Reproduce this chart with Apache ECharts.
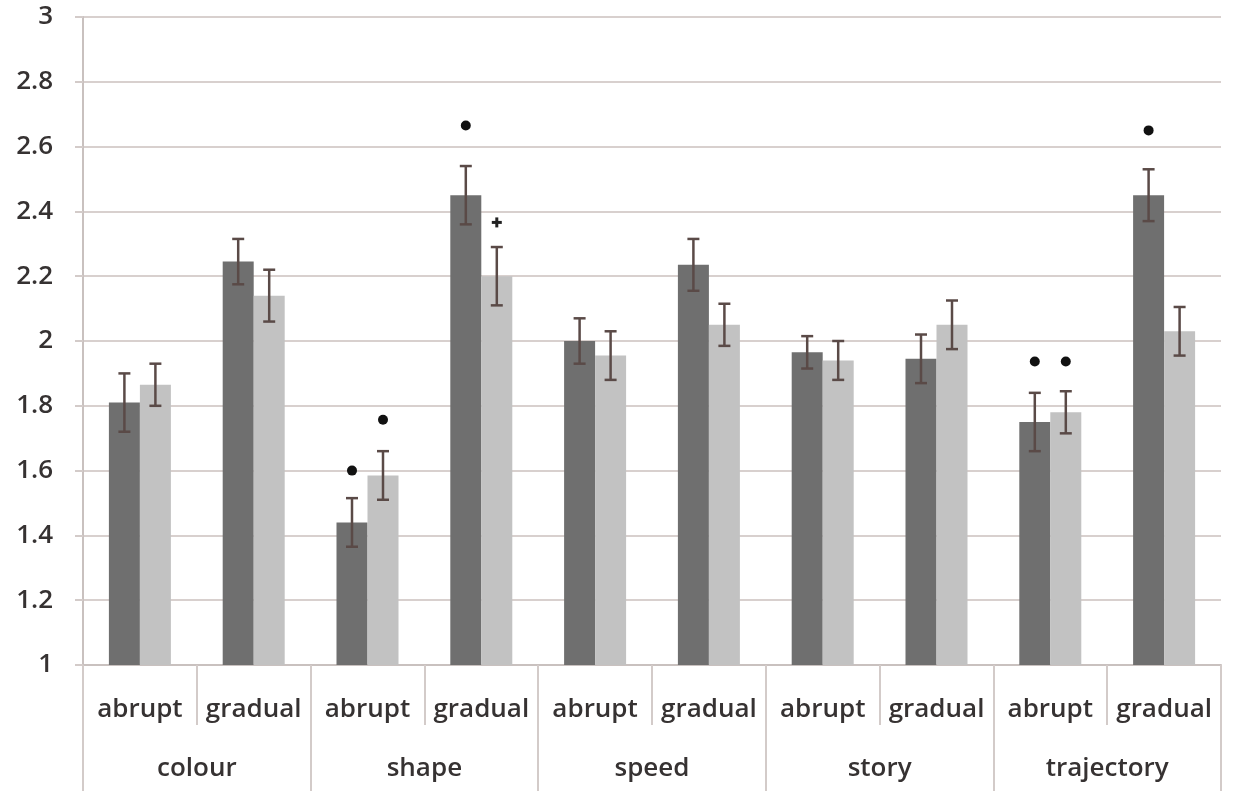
<!DOCTYPE html>
<html>
<head>
<meta charset="utf-8">
<script src="https://cdn.jsdelivr.net/npm/echarts@6/dist/echarts.min.js"></script>
<style>
html,body{margin:0;padding:0;background:#fff;}
#chart{width:1233px;height:794px;}
</style>
</head>
<body>
<div id="chart"></div>
<script>
// ---- data ----
var categories = ['abrupt','gradual','abrupt','gradual','abrupt','gradual','abrupt','gradual','abrupt','gradual'];
var groups = ['colour','shape','speed','story','trajectory'];
var darkMeans  = [1.81, 2.245, 1.44, 2.45, 2.00, 2.235, 1.965, 1.945, 1.75, 2.45];
var darkErr    = [0.09, 0.07, 0.075, 0.09, 0.07, 0.08, 0.05, 0.075, 0.09, 0.08];
var lightMeans = [1.865, 2.14, 1.585, 2.20, 1.955, 2.05, 1.94, 2.05, 1.78, 2.03];
var lightErr   = [0.065, 0.08, 0.075, 0.09, 0.075, 0.065, 0.06, 0.075, 0.065, 0.075];
// significance markers: [categoryIndex, value, symbol]
var darkMarks  = [[2, 1.60, 'dot'], [3, 2.665, 'dot'], [8, 1.937, 'dot'], [9, 2.65, 'dot']];
var lightMarks = [[2, 1.757, 'dot'], [3, 2.366, 'plus'], [8, 1.937, 'dot']];
var yTicks = {min: 1, max: 3, interval: 0.2};

var BAR_W = 31;
var FONT = '"Open Sans", "DejaVu Sans", sans-serif';

function errSeries(means, errs, side) {
  var data = means.map(function (m, i) { return [i, m - errs[i], m + errs[i]]; });
  return {
    type: 'custom', xAxisIndex: 0, yAxisIndex: 0, z: 5,
    data: data,
    renderItem: function (params, api) {
      var x = api.value(0);
      var lo = api.coord([x, api.value(1)]);
      var hi = api.coord([x, api.value(2)]);
      var cx = lo[0] + side * BAR_W / 2;
      var cap = 6;
      var style = {stroke: '#5a4a47', lineWidth: 2.5};
      return {
        type: 'group',
        children: [
          {type: 'line', shape: {x1: cx, y1: lo[1], x2: cx, y2: hi[1]}, style: style},
          {type: 'line', shape: {x1: cx - cap, y1: lo[1], x2: cx + cap, y2: lo[1]}, style: style},
          {type: 'line', shape: {x1: cx - cap, y1: hi[1], x2: cx + cap, y2: hi[1]}, style: style}
        ]
      };
    }
  };
}

function markSeries(marks, side) {
  return {
    type: 'custom', xAxisIndex: 0, yAxisIndex: 0, z: 6,
    data: marks.map(function (m) { return [m[0], m[1], m[2] === 'dot' ? 0 : 1]; }),
    renderItem: function (params, api) {
      var p = api.coord([api.value(0), api.value(1)]);
      var cx = p[0] + side * BAR_W / 2;
      if (api.value(2) === 0) {
        return {type: 'circle', shape: {cx: cx, cy: p[1], r: 5}, style: {fill: '#111'}};
      }
      var s = 5;
      var st = {stroke: '#222', lineWidth: 3};
      return {type: 'group', children: [
        {type: 'line', shape: {x1: cx - s, y1: p[1], x2: cx + s, y2: p[1]}, style: st},
        {type: 'line', shape: {x1: cx, y1: p[1] - s, x2: cx, y2: p[1] + s}, style: st}
      ]};
    }
  };
}

var labelStyle = {fontSize: 26, fontWeight: 600, color: '#363232', fontFamily: FONT};

var chart = echarts.init(document.getElementById('chart'));
chart.setOption({
  backgroundColor: '#ffffff',
  animation: false,
  grid: {left: 83, right: 12, top: 17, bottom: 129, containLabel: false},
  xAxis: [{
    type: 'category', data: categories, position: 'bottom', offset: 0,
    axisLine: {show: true, lineStyle: {color: '#c9c1bf', width: 2}},
    axisTick: {show: true, length: 60, lineStyle: {color: '#d3cbc9', width: 2}},
    axisLabel: Object.assign({margin: 32, interval: 0}, labelStyle)
  }, {
    type: 'category', data: groups, position: 'bottom', offset: 0,
    axisLine: {show: false},
    axisTick: {show: true, length: 126, lineStyle: {color: '#d3cbc9', width: 2}},
    axisLabel: Object.assign({margin: 91, interval: 0}, labelStyle)
  }],
  yAxis: {
    type: 'value', min: yTicks.min, max: yTicks.max, interval: yTicks.interval,
    axisLine: {show: true, lineStyle: {color: '#c9c1bf', width: 2}},
    axisTick: {show: true, length: 8, lineStyle: {color: '#d3cbc9', width: 2}},
    axisLabel: Object.assign({margin: 30,
      formatter: function (v) { return String(Math.round(v * 10) / 10); }}, labelStyle),
    splitLine: {show: true, lineStyle: {color: '#d8d0ce', width: 2}}
  },
  series: [
    {type: 'bar', data: darkMeans, barWidth: BAR_W, barGap: '0%', itemStyle: {color: '#6f6f6f'}},
    {type: 'bar', data: lightMeans, barWidth: BAR_W, barGap: '0%', itemStyle: {color: '#c2c2c2'}},
    errSeries(darkMeans, darkErr, -1),
    errSeries(lightMeans, lightErr, 1),
    markSeries(darkMarks, -1),
    markSeries(lightMarks, 1)
  ]
});
</script>
</body>
</html>
